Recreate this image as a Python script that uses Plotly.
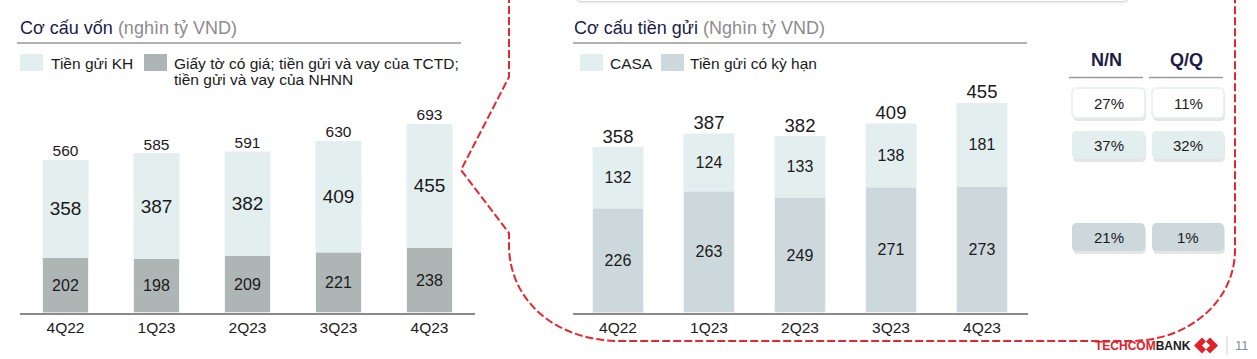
import plotly.graph_objects as go

W, H = 1257, 359
FONT = "Liberation Sans, Arial, sans-serif"

# ---------------- data ----------------
categories = ["4Q22", "1Q23", "2Q23", "3Q23", "4Q23"]

# Cơ cấu vốn (nghìn tỷ VND)
funding_names = ["Tiền gửi KH", "Giấy tờ có giá; tiền gửi và vay của TCTD;<br>tiền gửi và vay của NHNN"]
customer_deposits = [358, 387, 382, 409, 455]
other_funding = [202, 198, 209, 221, 238]
funding_total = [560, 585, 591, 630, 693]

# Cơ cấu tiền gửi (Nghìn tỷ VND)
deposit_names = ["CASA", "Tiền gửi có kỳ hạn"]
casa = [132, 124, 133, 138, 181]
term_deposits = [226, 263, 249, 271, 273]
deposit_total = [358, 387, 382, 409, 455]

# growth table
growth_headers = ["N/N", "Q/Q"]
growth_yoy = ["27%", "37%", "21%"]
growth_qoq = ["11%", "32%", "1%"]

# ---------------- styles ----------------
C_LIGHT = "#e3efef"
C_GRAY = "#aeb5b5"
C_BLUEGRAY = "#cdd8dc"
C_TEXT = "#1a1a1a"
C_NAVY = "#1b1c48"
C_RED = "#e8262d"


def X(x):
    return x / W


def Y(y):
    return 1 - y / H


def P(x, y):
    return f"{X(x):.6f},{Y(y):.6f}"


def rr_path(x0, y0, x1, y1, r):
    return (f"M {P(x0 + r, y0)} L {P(x1 - r, y0)} Q {P(x1, y0)} {P(x1, y0 + r)} "
            f"L {P(x1, y1 - r)} Q {P(x1, y1)} {P(x1 - r, y1)} "
            f"L {P(x0 + r, y1)} Q {P(x0, y1)} {P(x0, y1 - r)} "
            f"L {P(x0, y0 + r)} Q {P(x0, y0)} {P(x0 + r, y0)} Z")


fig = go.Figure()

# ---- left chart: funding structure ----
fig.add_trace(go.Bar(
    x=categories, y=other_funding, name=funding_names[1], marker_color=C_GRAY,
    text=other_funding, textposition="inside", insidetextanchor="middle",
    textangle=0, constraintext="none",
    textfont=dict(size=16, color=C_TEXT, family=FONT),
    width=0.495, xaxis="x", yaxis="y", showlegend=False))
fig.add_trace(go.Bar(
    x=categories, y=customer_deposits, name=funding_names[0], marker_color=C_LIGHT,
    text=customer_deposits, textposition="inside", insidetextanchor="middle",
    textangle=0, constraintext="none",
    textfont=dict(size=19, color=C_TEXT, family=FONT),
    width=0.495, xaxis="x", yaxis="y", showlegend=False))
fig.add_trace(go.Scatter(
    x=categories, y=funding_total, mode="text", text=funding_total,
    textposition="top center", textfont=dict(size=15.5, color=C_TEXT, family=FONT),
    xaxis="x", yaxis="y", showlegend=False, cliponaxis=False))

# ---- right chart: deposit structure ----
fig.add_trace(go.Bar(
    x=categories, y=term_deposits, name=deposit_names[1], marker_color=C_BLUEGRAY,
    text=term_deposits, textposition="inside", insidetextanchor="middle",
    textangle=0, constraintext="none",
    textfont=dict(size=16, color=C_TEXT, family=FONT),
    width=0.55, xaxis="x2", yaxis="y2", showlegend=False))
fig.add_trace(go.Bar(
    x=categories, y=casa, name=deposit_names[0], marker_color=C_LIGHT,
    text=casa, textposition="inside", insidetextanchor="middle",
    textangle=0, constraintext="none",
    textfont=dict(size=16, color=C_TEXT, family=FONT),
    width=0.55, xaxis="x2", yaxis="y2", showlegend=False))
fig.add_trace(go.Scatter(
    x=categories, y=deposit_total, mode="text", text=deposit_total,
    textposition="top center", textfont=dict(size=18.5, color=C_TEXT, family=FONT),
    xaxis="x2", yaxis="y2", showlegend=False, cliponaxis=False))

axis_common = dict(showgrid=False, zeroline=False, ticks="", showline=True,
                   linecolor="#8a8a8a", linewidth=2,
                   tickfont=dict(size=15.5, color=C_TEXT, family=FONT),
                   type="category", range=[-0.5, 4.5], fixedrange=True)
yaxis_common = dict(showgrid=False, zeroline=False, showticklabels=False,
                    showline=False, domain=[Y(312.5), Y(92)], fixedrange=True)

fig.update_layout(
    width=W, height=H, autosize=False,
    margin=dict(l=0, r=0, t=0, b=0),
    paper_bgcolor="white", plot_bgcolor="white",
    barmode="stack", showlegend=False,
    font=dict(family=FONT, color=C_TEXT),
    xaxis=dict(domain=[X(20), X(475)], anchor="y", **axis_common),
    yaxis=dict(anchor="x", range=[0, 811], **yaxis_common),
    xaxis2=dict(domain=[X(572.5), X(1027.5)], anchor="y2", **axis_common),
    yaxis2=dict(anchor="x2", range=[0, 478], **yaxis_common),
)

shapes = []
ann = []

# top card remnant
shapes.append(dict(type="path", xref="paper", yref="paper",
                   path=rr_path(576, -12, 1129, 3.5, 6),
                   fillcolor="rgba(0,0,0,0.06)", line=dict(width=0), layer="below"))
shapes.append(dict(type="path", xref="paper", yref="paper",
                   path=rr_path(575, -12, 1129, 1.5, 6),
                   fillcolor="white", line=dict(color="#d8d8d8", width=1), layer="below"))

# titles
ann.append(dict(x=X(18), y=Y(28), xref="paper", yref="paper", xanchor="left", yanchor="middle",
                showarrow=False, font=dict(size=18, family=FONT),
                text=f"<span style='color:{C_NAVY}'>Cơ cấu vốn</span> <span style='color:#8c8c8c'>(nghìn tỷ VND)</span>"))
ann.append(dict(x=X(572), y=Y(28), xref="paper", yref="paper", xanchor="left", yanchor="middle",
                showarrow=False, font=dict(size=18, family=FONT),
                text=f"<span style='color:{C_NAVY}'>Cơ cấu tiền gửi</span> <span style='color:#8c8c8c'>(Nghìn tỷ VND)</span>"))
for x0, x1 in [(17, 461), (573, 1027)]:
    shapes.append(dict(type="line", xref="paper", yref="paper", x0=X(x0), x1=X(x1), y0=Y(43), y1=Y(43),
                       line=dict(color="#b0b0b0", width=2)))

# legends
legend_items = [
    (20, 43, C_LIGHT, 49, funding_names[0]),
    (144, 167, C_GRAY, 172, funding_names[1]),
    (580, 603, C_LIGHT, 608, deposit_names[0]),
    (661, 684, C_BLUEGRAY, 688, deposit_names[1]),
]
for sx0, sx1, col, tx, name in legend_items:
    shapes.append(dict(type="rect", xref="paper", yref="paper", x0=X(sx0), x1=X(sx1), y0=Y(54), y1=Y(71),
                       fillcolor=col, line=dict(width=0)))
    for i, line in enumerate(name.split("<br>")):
        ann.append(dict(x=X(tx), y=Y(63 + 17 * i), xref="paper", yref="paper", xanchor="left", yanchor="middle",
                        showarrow=False, text=line, font=dict(size=15.5, color=C_TEXT, family=FONT)))

# growth table
col_bounds = [(1072, 1145), (1152, 1224)]
ul_bounds = [(1069, 1143), (1149, 1223)]
for (u0, u1), hdr, cx in zip(ul_bounds, growth_headers, [1106, 1186]):
    ann.append(dict(x=X(cx), y=Y(60), xref="paper", yref="paper", xanchor="center", yanchor="middle",
                    showarrow=False, text=f"<b>{hdr}</b>", font=dict(size=18, color=C_NAVY, family=FONT)))
    shapes.append(dict(type="line", xref="paper", yref="paper", x0=X(u0), x1=X(u1), y0=Y(77.5), y1=Y(77.5),
                       line=dict(color="#9a9a9a", width=1.5)))
rows = [(88, 118, "white", C_LIGHT), (131, 159, C_LIGHT, None), (223, 251, C_BLUEGRAY, None)]
for ci, vals in enumerate([growth_yoy, growth_qoq]):
    bx0, bx1 = col_bounds[ci]
    for ri, (y0, y1, fill, border) in enumerate(rows):
        shapes.append(dict(type="path", xref="paper", yref="paper", path=rr_path(bx0 + 1, y0 + 3, bx1 + 1, y1 + 3, 5),
                           fillcolor="rgba(0,0,0,0.10)", line=dict(width=0)))
        shapes.append(dict(type="path", xref="paper", yref="paper", path=rr_path(bx0, y0, bx1, y1, 5),
                           fillcolor=fill,
                           line=dict(color=border if border else fill, width=1.5 if border else 0)))
        ann.append(dict(x=X((bx0 + bx1) / 2), y=Y((y0 + y1) / 2), xref="paper", yref="paper",
                        xanchor="center", yanchor="middle", showarrow=False, text=vals[ri],
                        font=dict(size=15, color=C_TEXT, family=FONT)))

# red dashed outline
outline = (f"M {P(509, -5)} L {P(509, 77)} L {P(461, 170)} L {P(509, 233)} L {P(509, 245)} "
           f"C {P(509, 300)} {P(555, 341)} {P(620, 341)} L {P(1130, 341)} "
           f"C {P(1190, 341)} {P(1235, 300)} {P(1235, 250)} L {P(1235, -5)}")
shapes.append(dict(type="path", xref="paper", yref="paper", path=outline,
                   line=dict(color=C_RED, width=2, dash="8px,3px")))

# footer logo
ann.append(dict(x=X(1093), y=Y(345.5), xref="paper", yref="paper", xanchor="left", yanchor="middle",
                showarrow=False, font=dict(size=12, family=FONT),
                text=f"<b><span style='color:#e3202a'>TECHCOM</span><span style='color:#1a1a1a'>BANK</span></b>"))
shapes.append(dict(type="path", xref="paper", yref="paper", fillcolor="#e3202a", line=dict(width=0),
                   path=f"M {P(1194, 345.5)} L {P(1202, 337.5)} L {P(1206, 341.5)} L {P(1202, 345.5)} L {P(1206, 349.5)} L {P(1202, 353.5)} Z"))
shapes.append(dict(type="path", xref="paper", yref="paper", fillcolor="#e3202a", line=dict(width=0),
                   path=f"M {P(1218, 345.5)} L {P(1210, 337.5)} L {P(1206, 341.5)} L {P(1210, 345.5)} L {P(1206, 349.5)} L {P(1210, 353.5)} Z"))
shapes.append(dict(type="line", xref="paper", yref="paper", x0=X(1227), x1=X(1227), y0=Y(336), y1=Y(355),
                   line=dict(color="#d0d0d0", width=1)))
ann.append(dict(x=X(1233), y=Y(345.5), xref="paper", yref="paper", xanchor="left", yanchor="middle",
                showarrow=False, text="11", font=dict(size=13, color="#8090a0", family=FONT)))

fig.update_layout(shapes=shapes, annotations=ann)
fig.write_html("out.html", config={"displayModeBar": False},
               post_script="document.body.style.margin='0';document.body.style.overflow='hidden';")
